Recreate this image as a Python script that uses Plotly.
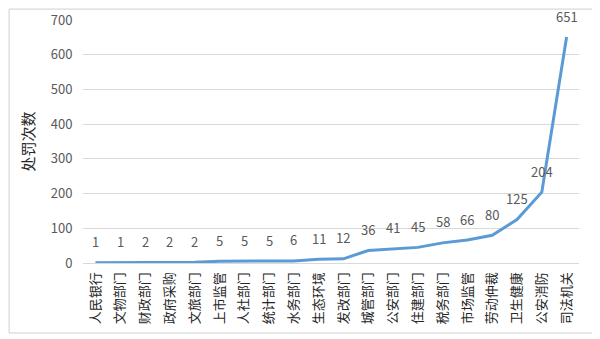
import plotly.graph_objects as go

categories = ["人民银行", "文物部门", "财政部门", "政府采购", "文旅部门", "上市监管", "人社部门",
              "统计部门", "水务部门", "生态环境", "发改部门", "城管部门", "公安部门", "住建部门",
              "税务部门", "市场监管", "劳动仲裁", "卫生健康", "公安消防", "司法机关"]
values = [1, 1, 2, 2, 2, 5, 5, 5, 6, 11, 12, 36, 41, 45, 58, 66, 80, 125, 204, 651]
y_ticks = [0, 100, 200, 300, 400, 500, 600, 700]

FONT = "Noto Sans CJK SC"
GRAY = "#595959"

fig = go.Figure()
fig.add_trace(go.Scatter(
    x=categories, y=values, mode="lines",
    line=dict(color="#5B9BD5", width=3),
    hoverinfo="skip", showlegend=False,
))

for c, v in zip(categories, values):
    fig.add_annotation(x=c, y=v, text=str(v), showarrow=False,
                       yshift=21, font=dict(family=FONT, size=13, color=GRAY))

fig.update_layout(
    width=592, height=331,
    margin=dict(l=75, r=21, t=12, b=76),
    paper_bgcolor="white", plot_bgcolor="white",
    font=dict(family=FONT, color=GRAY),
    xaxis=dict(
        type="category", tickangle=-90, showgrid=False, showline=False,
        ticks="outside", ticklen=3, tickcolor="rgba(0,0,0,0)",
        tickfont=dict(family=FONT, size=13, color="#262626"),
        zeroline=False, range=[-0.5, len(categories) - 0.5], automargin=False,
    ),
    yaxis=dict(
        range=[0, 700], tickvals=y_ticks, showgrid=True, gridcolor="#D9D9D9",
        gridwidth=1, zeroline=True, zerolinecolor="#D9D9D9", zerolinewidth=1,
        showline=False, ticks="outside", ticklen=7, tickcolor="rgba(0,0,0,0)",
        automargin=False,
        tickfont=dict(family=FONT, size=13, color=GRAY),
        title=dict(text="处罚次数", font=dict(family=FONT, size=15, color="#262626"), standoff=12),
    ),
    shapes=[dict(type="rect", xref="paper", yref="paper",
                 x0=-0.149, x1=1.036, y0=-0.288, y1=1.045,
                 line=dict(color="#D0D0D0", width=1), fillcolor="rgba(0,0,0,0)", layer="above")],
)

fig.write_html("out.html")
